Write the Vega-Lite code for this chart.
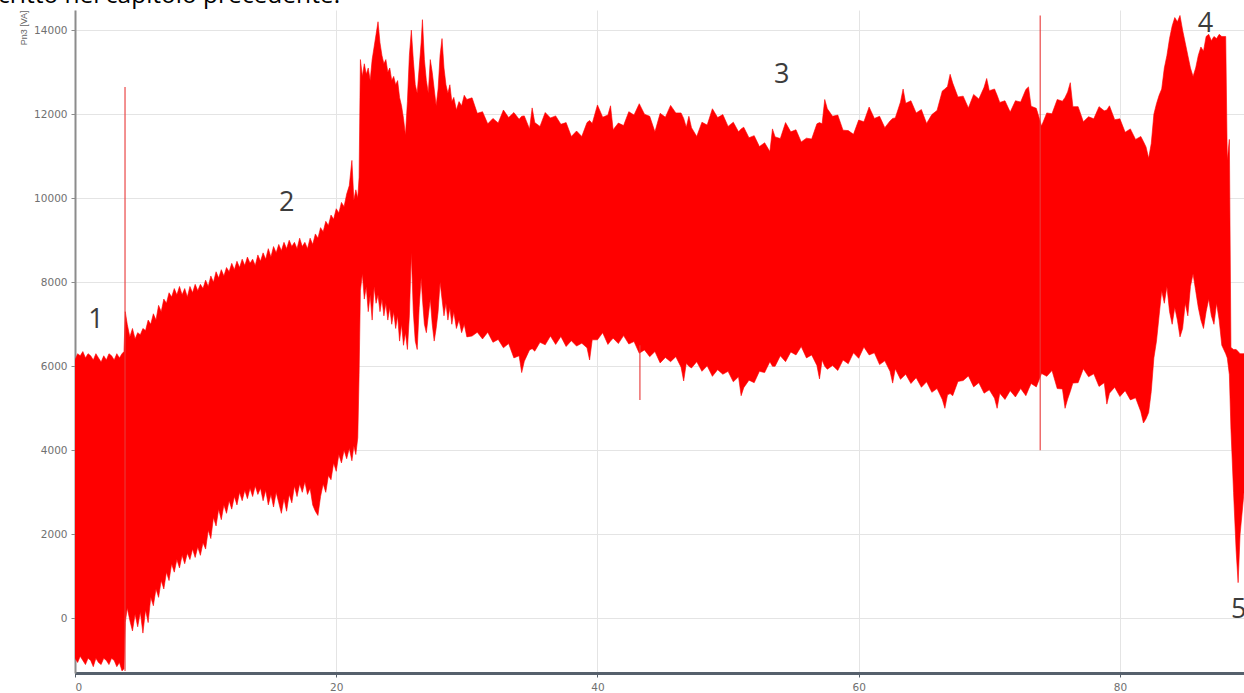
{
  "$schema": "https://vega.github.io/schema/vega-lite/v6.json",
  "width": 1169,
  "height": 663,
  "autosize": {"type": "none"},
  "padding": {"left": 75, "top": 10, "right": 0, "bottom": 20},
  "background": "#ffffff",
  "config": {"view": {"stroke": null}},
  "title": {"text": "critto nel capitolo precedente.", "anchor": "start", "frame": "group", "font": "Open Sans", "fontSize": 24.5, "fontWeight": "normal", "color": "#000000", "baseline": "alphabetic", "offset": 0, "dy": 17, "dx": -77},
  "datasets": {
    "band": [
      {"t":0.0,"lo":-950,"hi":6150},{"t":0.2,"lo":-1050,"hi":6300},{"t":0.4,"lo":-900,"hi":6250},{"t":0.6,"lo":-1000,"hi":6350},{"t":0.8,"lo":-1100,"hi":6200},{"t":1.0,"lo":-950,"hi":6300},{"t":1.2,"lo":-1000,"hi":6250},{"t":1.4,"lo":-1150,"hi":6150},{"t":1.6,"lo":-950,"hi":6300},{"t":1.8,"lo":-1050,"hi":6200},{"t":2.0,"lo":-1100,"hi":6100},{"t":2.2,"lo":-950,"hi":6250},{"t":2.4,"lo":-1000,"hi":6150},{"t":2.6,"lo":-1100,"hi":6300},{"t":2.8,"lo":-950,"hi":6250},{"t":3.0,"lo":-1000,"hi":6150},{"t":3.2,"lo":-1150,"hi":6300},{"t":3.4,"lo":-1050,"hi":6200},{"t":3.6,"lo":-1250,"hi":6300},{"t":3.75,"lo":-1200,"hi":6350},
      {"t":3.85,"lo":-100,"hi":7300},{"t":4.0,"lo":250,"hi":7000},{"t":4.2,"lo":-50,"hi":6700},{"t":4.4,"lo":-300,"hi":6900},{"t":4.6,"lo":100,"hi":6650},{"t":4.8,"lo":-200,"hi":6800},{"t":5.0,"lo":150,"hi":6750},{"t":5.2,"lo":-350,"hi":6900},{"t":5.4,"lo":200,"hi":6850},{"t":5.6,"lo":-100,"hi":7100},{"t":5.8,"lo":500,"hi":7000},{"t":6.0,"lo":300,"hi":7250},{"t":6.2,"lo":700,"hi":7100},{"t":6.4,"lo":500,"hi":7450},{"t":6.6,"lo":900,"hi":7300},{"t":6.8,"lo":700,"hi":7600},{"t":7.0,"lo":1100,"hi":7500},{"t":7.2,"lo":900,"hi":7750},{"t":7.4,"lo":1300,"hi":7650},{"t":7.6,"lo":1100,"hi":7850},{"t":7.8,"lo":1400,"hi":7700},{"t":8.0,"lo":1200,"hi":7900},{"t":8.2,"lo":1500,"hi":7700},{"t":8.4,"lo":1300,"hi":7850},{"t":8.6,"lo":1550,"hi":7650},{"t":8.8,"lo":1400,"hi":7900},{"t":9.0,"lo":1650,"hi":7750},{"t":9.2,"lo":1450,"hi":7950},{"t":9.4,"lo":1700,"hi":7800},{"t":9.6,"lo":1500,"hi":7950},{"t":9.8,"lo":1800,"hi":7850},{"t":10.0,"lo":1650,"hi":8050},{"t":10.2,"lo":2100,"hi":7900},{"t":10.4,"lo":1900,"hi":8150},{"t":10.6,"lo":2400,"hi":8000},{"t":10.8,"lo":2200,"hi":8250},{"t":11.0,"lo":2600,"hi":8100},{"t":11.2,"lo":2350,"hi":8300},{"t":11.4,"lo":2700,"hi":8150},{"t":11.6,"lo":2500,"hi":8350},{"t":11.8,"lo":2800,"hi":8250},{"t":12.0,"lo":2600,"hi":8450},{"t":12.2,"lo":2900,"hi":8300},{"t":12.4,"lo":2700,"hi":8500},{"t":12.6,"lo":3000,"hi":8350},{"t":12.8,"lo":2800,"hi":8550},{"t":13.0,"lo":3050,"hi":8400},{"t":13.2,"lo":2850,"hi":8600},{"t":13.4,"lo":3100,"hi":8450},{"t":13.6,"lo":2900,"hi":8550},{"t":13.8,"lo":3150,"hi":8400},{"t":14.0,"lo":2950,"hi":8650},{"t":14.2,"lo":3100,"hi":8500},{"t":14.4,"lo":2800,"hi":8700},{"t":14.6,"lo":3050,"hi":8550},{"t":14.8,"lo":2700,"hi":8800},{"t":15.0,"lo":2950,"hi":8600},{"t":15.2,"lo":2650,"hi":8850},{"t":15.4,"lo":3000,"hi":8700},{"t":15.6,"lo":2750,"hi":8900},{"t":15.8,"lo":2500,"hi":8750},{"t":16.0,"lo":2850,"hi":8950},{"t":16.2,"lo":2550,"hi":8800},{"t":16.4,"lo":2950,"hi":9000},{"t":16.6,"lo":2750,"hi":8850},{"t":16.8,"lo":3150,"hi":8950},{"t":17.0,"lo":2900,"hi":8800},{"t":17.2,"lo":3200,"hi":9050},{"t":17.4,"lo":3000,"hi":8850},{"t":17.6,"lo":3250,"hi":8950},{"t":17.8,"lo":2950,"hi":8800},{"t":18.0,"lo":3100,"hi":9050},{"t":18.2,"lo":2700,"hi":8900},{"t":18.4,"lo":2550,"hi":9150},{"t":18.6,"lo":2450,"hi":9050},{"t":18.8,"lo":2900,"hi":9300},{"t":19.0,"lo":3200,"hi":9200},{"t":19.2,"lo":3000,"hi":9450},{"t":19.4,"lo":3400,"hi":9350},{"t":19.6,"lo":3300,"hi":9600},{"t":19.8,"lo":3700,"hi":9500},{"t":20.0,"lo":3500,"hi":9750},{"t":20.2,"lo":3900,"hi":9650},{"t":20.4,"lo":3700,"hi":9900},{"t":20.6,"lo":4000,"hi":9800},{"t":20.8,"lo":3800,"hi":10100},{"t":21.0,"lo":4050,"hi":10300},{"t":21.2,"lo":3750,"hi":10900},{"t":21.35,"lo":4100,"hi":9950},{"t":21.5,"lo":3900,"hi":10200},{"t":21.65,"lo":4300,"hi":10000},{"t":21.75,"lo":5800,"hi":10500},
      {"t":21.85,"lo":7800,"hi":13300},{"t":22.0,"lo":8200,"hi":12900},{"t":22.15,"lo":7600,"hi":13200},{"t":22.3,"lo":7900,"hi":12950},{"t":22.45,"lo":7300,"hi":13100},{"t":22.6,"lo":7700,"hi":12800},{"t":22.75,"lo":7100,"hi":13300},{"t":22.9,"lo":7900,"hi":13600},{"t":23.05,"lo":7500,"hi":13900},{"t":23.2,"lo":7700,"hi":14200},{"t":23.35,"lo":7300,"hi":13700},{"t":23.5,"lo":7600,"hi":13400},{"t":23.65,"lo":7200,"hi":13200},{"t":23.8,"lo":7500,"hi":13300},{"t":23.95,"lo":7100,"hi":13000},{"t":24.1,"lo":7400,"hi":13100},{"t":24.25,"lo":7000,"hi":12800},{"t":24.4,"lo":7300,"hi":12900},{"t":24.55,"lo":6900,"hi":12700},{"t":24.7,"lo":7200,"hi":12800},{"t":24.85,"lo":6600,"hi":12400},{"t":25.0,"lo":7000,"hi":12200},{"t":25.15,"lo":6500,"hi":11900},{"t":25.3,"lo":6800,"hi":11500},{"t":25.45,"lo":6400,"hi":12300},{"t":25.6,"lo":7200,"hi":13400},{"t":25.75,"lo":8700,"hi":14000},{"t":25.9,"lo":7300,"hi":13300},{"t":26.05,"lo":6600,"hi":12700},{"t":26.2,"lo":6400,"hi":12500},{"t":26.35,"lo":7400,"hi":13100},{"t":26.5,"lo":8100,"hi":13700},{"t":26.6,"lo":7600,"hi":14250},{"t":26.75,"lo":7000,"hi":13300},{"t":26.9,"lo":6800,"hi":12800},{"t":27.05,"lo":7200,"hi":12500},{"t":27.2,"lo":7600,"hi":13300},{"t":27.35,"lo":7000,"hi":13000},{"t":27.5,"lo":6600,"hi":12600},{"t":27.65,"lo":6900,"hi":12200},{"t":27.8,"lo":7300,"hi":12600},{"t":27.95,"lo":8000,"hi":13400},{"t":28.1,"lo":7600,"hi":13800},{"t":28.25,"lo":7200,"hi":13100},{"t":28.4,"lo":7500,"hi":12700},{"t":28.55,"lo":7100,"hi":12500},{"t":28.7,"lo":7400,"hi":12700},{"t":28.85,"lo":7000,"hi":12300},{"t":29.0,"lo":7300,"hi":12400},{"t":29.2,"lo":6900,"hi":12100},{"t":29.4,"lo":7100,"hi":12300},{"t":29.6,"lo":6800,"hi":12200},{"t":29.8,"lo":7000,"hi":12450},{"t":30.0,"lo":6700,"hi":12350},
      {"t":30.4,"lo":6720,"hi":12390},{"t":30.8,"lo":6810,"hi":12020},{"t":31.2,"lo":6650,"hi":12060},{"t":31.6,"lo":6810,"hi":11770},{"t":32.0,"lo":6570,"hi":11900},{"t":32.4,"lo":6640,"hi":11790},{"t":32.8,"lo":6440,"hi":12100},{"t":33.2,"lo":6540,"hi":11920},{"t":33.6,"lo":6200,"hi":12040},{"t":34.0,"lo":6250,"hi":11880},{"t":34.2,"lo":5850,"hi":11950},{"t":34.4,"lo":6120,"hi":11960},{"t":34.8,"lo":6390,"hi":11650},{"t":35.0,"lo":6420,"hi":12150},{"t":35.2,"lo":6360,"hi":11800},{"t":35.6,"lo":6570,"hi":11710},{"t":36.0,"lo":6510,"hi":12040},{"t":36.4,"lo":6720,"hi":11910},{"t":36.8,"lo":6520,"hi":11960},{"t":37.2,"lo":6710,"hi":11760},{"t":37.6,"lo":6470,"hi":11800},{"t":38.0,"lo":6610,"hi":11470},{"t":38.4,"lo":6480,"hi":11600},{"t":38.8,"lo":6550,"hi":11470},{"t":39.2,"lo":6440,"hi":11800},{"t":39.4,"lo":6150,"hi":11850},{"t":39.6,"lo":6630,"hi":11780},{"t":40.0,"lo":6630,"hi":12220},{"t":40.4,"lo":6800,"hi":11930},{"t":40.8,"lo":6520,"hi":11980},{"t":41.0,"lo":6600,"hi":12200},{"t":41.2,"lo":6670,"hi":11630},{"t":41.6,"lo":6540,"hi":11790},{"t":42.0,"lo":6730,"hi":11730},{"t":42.4,"lo":6530,"hi":12060},{"t":42.8,"lo":6590,"hi":11980},{"t":43.2,"lo":6310,"hi":12250},{"t":43.6,"lo":6390,"hi":12000},{"t":44.0,"lo":6230,"hi":11950},{"t":44.4,"lo":6350,"hi":11580},{"t":44.8,"lo":6080,"hi":12020},{"t":45.2,"lo":6210,"hi":11930},{"t":45.6,"lo":6110,"hi":12210},{"t":46.0,"lo":6230,"hi":12030},{"t":46.4,"lo":5980,"hi":12030},{"t":46.6,"lo":5650,"hi":11900},{"t":46.8,"lo":6070,"hi":11690},{"t":47.0,"lo":6000,"hi":11950},{"t":47.2,"lo":5960,"hi":11680},{"t":47.6,"lo":6110,"hi":11470},{"t":48.0,"lo":5880,"hi":11810},{"t":48.4,"lo":6010,"hi":11740},{"t":48.8,"lo":5760,"hi":12130},{"t":49.2,"lo":5920,"hi":11920},{"t":49.6,"lo":5810,"hi":11990},{"t":50.0,"lo":5880,"hi":11710},{"t":50.4,"lo":5630,"hi":11810},{"t":50.8,"lo":5750,"hi":11580},{"t":51.0,"lo":5300,"hi":11650},{"t":51.2,"lo":5490,"hi":11690},{"t":51.6,"lo":5670,"hi":11440},{"t":52.0,"lo":5610,"hi":11490},{"t":52.4,"lo":5880,"hi":11230},{"t":52.8,"lo":5850,"hi":11320},{"t":53.2,"lo":6110,"hi":11110},{"t":53.4,"lo":6000,"hi":11650},{"t":53.6,"lo":6000,"hi":11460},{"t":54.0,"lo":6250,"hi":11420},{"t":54.4,"lo":6110,"hi":11800},{"t":54.8,"lo":6340,"hi":11580},{"t":55.2,"lo":6270,"hi":11630},{"t":55.6,"lo":6470,"hi":11340},{"t":56.0,"lo":6200,"hi":11430},{"t":56.4,"lo":6270,"hi":11410},{"t":56.8,"lo":6020,"hi":11770},{"t":57.0,"lo":5700,"hi":11800},{"t":57.2,"lo":6150,"hi":11770},{"t":57.4,"lo":6000,"hi":12350},{"t":57.6,"lo":5930,"hi":12130},{"t":58.0,"lo":6020,"hi":11950},{"t":58.4,"lo":5900,"hi":11980},{"t":58.8,"lo":6150,"hi":11620},{"t":59.2,"lo":6060,"hi":11610},{"t":59.6,"lo":6320,"hi":11520},{"t":60.0,"lo":6190,"hi":11860},{"t":60.4,"lo":6460,"hi":11820},{"t":60.8,"lo":6270,"hi":12170},{"t":61.2,"lo":6320,"hi":11900},{"t":61.6,"lo":6040,"hi":11950},{"t":62.0,"lo":6130,"hi":11680},{"t":62.4,"lo":5880,"hi":11840},{"t":62.6,"lo":5600,"hi":11900},{"t":62.8,"lo":5940,"hi":11910},{"t":63.2,"lo":5690,"hi":12290},{"t":63.4,"lo":5750,"hi":12600},{"t":63.6,"lo":5810,"hi":12260},{"t":64.0,"lo":5590,"hi":12320},{"t":64.4,"lo":5730,"hi":12030},{"t":64.8,"lo":5500,"hi":12110},{"t":65.2,"lo":5630,"hi":11780},{"t":65.6,"lo":5380,"hi":11990},{"t":66.0,"lo":5470,"hi":12090},{"t":66.4,"lo":5210,"hi":12550},{"t":66.6,"lo":5000,"hi":12600},{"t":66.8,"lo":5320,"hi":12660},{"t":67.0,"lo":5350,"hi":12950},{"t":67.2,"lo":5300,"hi":12740},{"t":67.6,"lo":5640,"hi":12410},{"t":68.0,"lo":5660,"hi":12430},{"t":68.4,"lo":5770,"hi":12150},{"t":68.8,"lo":5510,"hi":12470},{"t":69.2,"lo":5610,"hi":12360},{"t":69.6,"lo":5360,"hi":12640},{"t":69.8,"lo":5400,"hi":12850},{"t":70.0,"lo":5440,"hi":12560},{"t":70.4,"lo":5240,"hi":12600},{"t":70.6,"lo":5000,"hi":12450},{"t":70.8,"lo":5360,"hi":12280},{"t":71.2,"lo":5210,"hi":12320},{"t":71.6,"lo":5420,"hi":12050},{"t":72.0,"lo":5270,"hi":12320},{"t":72.4,"lo":5470,"hi":12290},{"t":72.8,"lo":5300,"hi":12590},{"t":73.0,"lo":5450,"hi":12650},{"t":73.2,"lo":5590,"hi":12190},{"t":73.6,"lo":5510,"hi":12140},{"t":74.0,"lo":5830,"hi":11720},{"t":74.4,"lo":5760,"hi":12030},{"t":74.8,"lo":5900,"hi":12010},{"t":75.2,"lo":5470,"hi":12350},{"t":75.6,"lo":5460,"hi":12310},{"t":75.8,"lo":5000,"hi":12400},{"t":76.0,"lo":5220,"hi":12530},{"t":76.2,"lo":5400,"hi":12750},{"t":76.4,"lo":5600,"hi":12180},{"t":76.8,"lo":5610,"hi":12180},{"t":77.2,"lo":5940,"hi":11820},{"t":77.6,"lo":5750,"hi":11940},{"t":78.0,"lo":5820,"hi":11890},{"t":78.4,"lo":5520,"hi":12180},{"t":78.8,"lo":5610,"hi":12080},{"t":79.0,"lo":5100,"hi":12100},{"t":79.2,"lo":5360,"hi":12200},{"t":79.6,"lo":5500,"hi":11870},{"t":80.0,"lo":5280,"hi":11890},{"t":80.4,"lo":5420,"hi":11570},{"t":80.8,"lo":5200,"hi":11650},{"t":81.2,"lo":5250,"hi":11400},{"t":81.6,"lo":4920,"hi":11470},{"t":81.8,"lo":4650,"hi":11350},{"t":82.0,"lo":4750,"hi":11220},
      {"t":82.2,"lo":4900,"hi":10950},{"t":82.4,"lo":5400,"hi":11300},{"t":82.6,"lo":6200,"hi":12000},{"t":82.8,"lo":6600,"hi":12250},{"t":83.0,"lo":7200,"hi":12450},{"t":83.2,"lo":7800,"hi":12600},{"t":83.4,"lo":7500,"hi":13100},{"t":83.6,"lo":7900,"hi":13400},{"t":83.8,"lo":7300,"hi":13800},{"t":84.0,"lo":7000,"hi":14100},{"t":84.2,"lo":7400,"hi":14300},{"t":84.4,"lo":7100,"hi":14200},{"t":84.6,"lo":6700,"hi":14350},{"t":84.8,"lo":6900,"hi":14000},{"t":85.0,"lo":7500,"hi":13700},{"t":85.2,"lo":7200,"hi":13400},{"t":85.4,"lo":7900,"hi":13100},{"t":85.6,"lo":8200,"hi":12900},{"t":85.8,"lo":7800,"hi":13100},{"t":86.0,"lo":7400,"hi":13400},{"t":86.2,"lo":7100,"hi":13600},{"t":86.4,"lo":6900,"hi":13500},{"t":86.6,"lo":7300,"hi":13850},{"t":86.8,"lo":7600,"hi":13900},{"t":87.0,"lo":7200,"hi":13750},{"t":87.2,"lo":7000,"hi":13850},{"t":87.4,"lo":7500,"hi":13800},{"t":87.6,"lo":7100,"hi":13900},{"t":87.8,"lo":6500,"hi":13850},{"t":88.1,"lo":6300,"hi":13850},{"t":88.22,"lo":6200,"hi":10900},{"t":88.38,"lo":5800,"hi":11400},{"t":88.5,"lo":4500,"hi":6450},{"t":88.7,"lo":3000,"hi":6400},{"t":88.9,"lo":1600,"hi":6400},{"t":89.05,"lo":850,"hi":6350},{"t":89.2,"lo":2000,"hi":6300},{"t":89.5,"lo":3000,"hi":6300}
    ],
    "spikes": [
      {"t":3.83,"lo":-1250,"hi":12650},
      {"t":43.25,"lo":5200,"hi":6500},
      {"t":73.9,"lo":4000,"hi":14350}
    ],
    "labels": [
      {"t":1.6,"v":7100,"label":"1"},
      {"t":16.2,"v":9880,"label":"2"},
      {"t":54.1,"v":12930,"label":"3"},
      {"t":86.55,"v":14140,"label":"4"},
      {"t":89.1,"v":190,"label":"5"}
    ]
  },
  "layer": [
    {
      "data": {"name": "band"},
      "mark": {"type": "area", "color": "#ff0000", "stroke": "#ff0000", "strokeWidth": 0.6, "clip": true, "interpolate": "linear"},
      "encoding": {
        "x": {"field": "t", "type": "quantitative", "scale": {"domain": [0, 89.5], "nice": false, "zero": false},
          "axis": {"values": [0, 20, 40, 60, 80], "title": null, "grid": true, "gridColor": "#e4e4e4", "domainColor": "#56606c", "domainWidth": 3, "tickColor": "#56606c", "tickSize": 4, "labelFont": "DejaVu Sans", "labelFontSize": 10.5, "labelColor": "#707070", "labelPadding": 5}},
        "y": {"field": "hi", "type": "quantitative", "scale": {"domain": [-1300, 14480], "nice": false, "zero": false},
          "axis": {"values": [0, 2000, 4000, 6000, 8000, 10000, 12000, 14000], "format": "d", "title": "Pn3 [VA]", "titleAnchor": "end", "titleFont": "Liberation Sans", "titleFontSize": 9, "titleFontWeight": "normal", "titleColor": "#666666", "titlePadding": 5, "grid": true, "gridColor": "#e4e4e4", "domainColor": "#8c8c8c", "domainWidth": 2, "tickColor": "#8c8c8c", "tickSize": 4, "labelFont": "DejaVu Sans", "labelFontSize": 10.5, "labelColor": "#707070", "labelPadding": 4}},
        "y2": {"field": "lo"}
      }
    },
    {
      "data": {"name": "spikes"},
      "mark": {"type": "rule", "color": "#e83a3a", "strokeWidth": 1.5, "opacity": 0.75, "clip": true},
      "encoding": {
        "x": {"field": "t", "type": "quantitative"},
        "y": {"field": "hi", "type": "quantitative"},
        "y2": {"field": "lo"}
      }
    },
    {
      "data": {"name": "labels"},
      "mark": {"type": "text", "font": "Open Sans", "fontSize": 27, "color": "#3c3c3c", "align": "center", "baseline": "middle"},
      "encoding": {
        "x": {"field": "t", "type": "quantitative"},
        "y": {"field": "v", "type": "quantitative"},
        "text": {"field": "label"}
      }
    }
  ]
}
